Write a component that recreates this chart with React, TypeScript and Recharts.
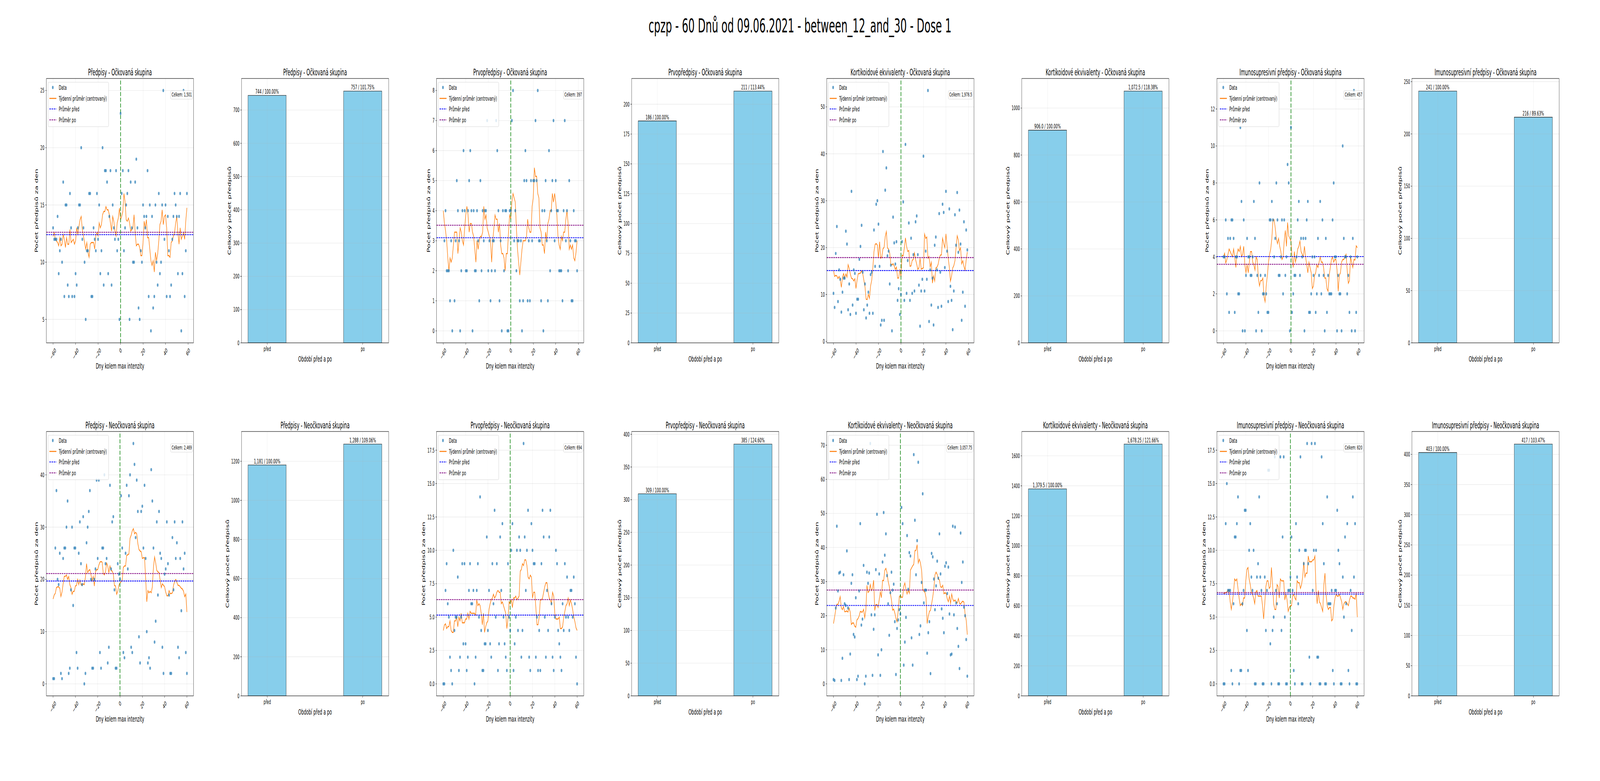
import React from 'react';
import {
  ComposedChart,
  BarChart,
  Bar,
  Scatter,
  Line,
  XAxis,
  YAxis,
  CartesianGrid,
  ReferenceLine,
  LabelList,
} from 'recharts';

// #region Data
const suptitle = 'cpzp - 60 Dnů od 09.06.2021 - between_12_and_30 - Dose 1';
const metricTitles = ['Předpisy', 'Prvopředpisy', 'Kortikoidové ekvivalenty', 'Imunosupresivní předpisy'];
const groupNames = ['Očkovaná skupina', 'Neočkovaná skupina'];
const periodLabels = ['před', 'po'];
const xTicks = [-60, -40, -20, 0, 20, 40, 60];

// Očkovaná skupina: days -60..-1 (před) and 0..59 (po)
const vaxPredpisyBefore = [13, 12, 12, 12, 14, 9, 11, 12, 10, 17, 7, 15, 15, 8, 7, 16, 13, 7, 24, 7, 9, 8, 13, 15, 15, 20, 12, 13, 10, 5, 11, 11, 16, 16, 7, 7, 13, 12, 11, 16, 12, 15, 9, 11, 20, 8, 18, 18, 17, 9, 14, 18, 8, 15, 13, 12, 18, 11, 12, 5];
const vaxPredpisyAfter = [23, 16, 18, 11, 13, 15, 16, 18, 5, 17, 13, 10, 10, 17, 19, 13, 6, 5, 11, 10, 15, 14, 13, 14, 18, 7, 15, 4, 14, 6, 7, 15, 10, 8, 16, 9, 10, 15, 25, 12, 15, 7, 14, 11, 7, 8, 12, 14, 16, 15, 14, 9, 14, 16, 4, 9, 25, 7, 11, 16];
const vaxPrvoBefore = [7, 3, 4, 2, 2, 2, 1, 3, 0, 7, 1, 3, 5, 4, 3, 0, 2, 4, 6, 4, 2, 2, 4, 5, 6, 4, 0, 4, 2, 2, 4, 3, 1, 5, 2, 4, 3, 4, 4, 7, 2, 3, 1, 2, 3, 3, 2, 7, 6, 4, 1, 3, 0, 4, 2, 4, 4, 0, 0, 4];
const vaxPrvoAfter = [4, 7, 8, 3, 4, 2, 3, 3, 1, 3, 0, 1, 5, 6, 5, 1, 3, 1, 5, 3, 5, 5, 7, 5, 8, 3, 3, 1, 4, 0, 4, 5, 3, 1, 6, 2, 4, 5, 7, 3, 5, 4, 4, 2, 2, 2, 1, 4, 7, 3, 4, 2, 5, 3, 1, 1, 4, 3, 3, 2];
const vaxKortBefore = [10.25, 7.25, 18.75, 24.5, 8.5, 15.25, 13.25, 6.25, 10.5, 13.5, 13.5, 23.5, 20.75, 6.75, 12.25, 5.75, 32, 7.75, 15.25, 14.5, 6, 9, 9, 17.5, 20.25, 24.75, 14.75, 6.75, 12.25, 5, 7.75, 10.5, 6, 14.25, 14.75, 6, 23.75, 16, 29.25, 30, 25, 16, 3.5, 4.5, 40.5, 4.5, 32.25, 37, 18.25, 19.25, 12.25, 16.25, 2.25, 26.5, 21, 16.5, 21.25, 8.75, 11.25, 5.75];
const vaxKortAfter = [10, 21.25, 29.75, 8.75, 42, 10.25, 17.25, 25.25, 8.75, 22, 10.25, 18.5, 10.75, 25.5, 26.75, 18.5, 12, 3.25, 10.75, 13.25, 39.5, 10.75, 19.25, 13.25, 53.5, 4.25, 15.25, 7.75, 13.5, 3.5, 20.5, 22.25, 15.25, 7.25, 27.25, 14.75, 7.5, 29.25, 27.5, 15.75, 32, 19.25, 8.5, 28.25, 11.75, 8.75, 2.5, 10.75, 27, 20.5, 31.75, 19, 28, 20.75, 4.5, 10.5, 25.5, 7.5, 23.75, 19.5];
const vaxImunoBefore = [4, 4, 6, 2, 5, 1, 5, 6, 6, 5, 1, 4, 4, 2, 2, 11, 7, 0, 6, 0, 3, 5, 4, 4, 3, 3, 4, 7, 5, 0, 3, 1, 8, 3, 0, 2, 2, 3, 2, 1, 1, 6, 6, 7, 6, 4, 5, 8, 6, 3, 3, 4, 6, 2, 6, 3, 4, 9, 8, 0];
const vaxImunoAfter = [11, 1, 2, 3, 3, 4, 6, 7, 3, 5, 4, 5, 0, 5, 6, 7, 1, 1, 2, 4, 3, 4, 1, 2, 5, 3, 7, 2, 6, 3, 0, 5, 1, 3, 2, 2, 2, 6, 8, 4, 4, 0, 3, 2, 2, 0, 10, 5, 4, 4, 2, 3, 1, 4, 0, 5, 13, 0, 1, 4];

// Neočkovaná skupina: days -60..-1 (před) and 0..60 (po)
const unvaxPredpisyBefore = [1, 1, 26, 37, 20, 19, 25, 2, 1, 24, 26, 26, 30, 35, 2, 3, 18, 30, 15, 26, 26, 6, 3, 25, 31, 23, 19, 32, 0, 2, 27, 30, 33, 37, 20, 3, 3, 20, 22, 39, 24, 39, 6, 3, 26, 26, 40, 23, 24, 4, 7, 38, 22, 31, 32, 18, 3, 3, 23, 21];
const unvaxPredpisyAfter = [20, 36, 26, 6, 5, 25, 38, 22, 36, 40, 7, 6, 46, 42, 28, 39, 33, 9, 4, 33, 34, 26, 38, 24, 10, 4, 5, 3, 41, 35, 26, 8, 12, 31, 17, 33, 25, 24, 7, 2, 21, 22, 31, 23, 17, 2, 2, 28, 18, 31, 24, 27, 7, 5, 24, 14, 31, 22, 25, 6, 2];
const unvaxPrvoBefore = [0, 0, 7, 9, 6, 5, 2, 1, 0, 10, 4, 5, 5, 8, 1, 2, 5, 9, 3, 9, 3, 1, 2, 7, 9, 6, 6, 7, 0, 2, 7, 9, 5, 14, 4, 1, 1, 3, 3, 11, 4, 7, 3, 2, 9, 6, 13, 5, 9, 1, 3, 11, 7, 12, 5, 3, 2, 1, 9, 5];
const unvaxPrvoAfter = [4, 10, 12, 1, 3, 5, 10, 4, 11, 10, 2, 4, 18, 11, 7, 10, 13, 2, 1, 12, 10, 9, 9, 2, 5, 1, 4, 1, 9, 13, 11, 5, 2, 7, 4, 11, 13, 6, 2, 1, 5, 10, 9, 4, 3, 2, 1, 6, 4, 9, 5, 8, 5, 4, 7, 7, 5, 8, 6, 2, 0];
const unvaxKortBefore = [1.25, 1, 22.25, 46.25, 27.25, 32.5, 32.75, 1, 7.5, 32, 23.5, 23, 39, 22.25, 1.25, 8.75, 29.5, 32, 14.5, 13.75, 25.25, 1.25, 2.25, 27.25, 47, 17.25, 19, 34.75, 0, 2.25, 32.75, 29.5, 32.5, 70.5, 20.25, 2.5, 16, 20.25, 33.5, 49.75, 8.5, 32.25, 2.5, 10, 35.75, 50.25, 37.75, 44, 31.75, 23.5, 14.25, 26.75, 32.75, 27.5, 29.25, 18.25, 2.75, 16.25, 18.75, 21.75];
const unvaxKortAfter = [20.5, 51.75, 47, 5.5, 12.25, 19.5, 43.5, 27.75, 38.5, 37.5, 13.5, 5.5, 67.25, 48, 32, 42, 65, 14.5, 17, 29.75, 55.75, 23.75, 27.5, 27.5, 9, 15, 18.25, 3, 38.25, 37.25, 30.75, 21.75, 28.75, 36, 31, 44, 32.25, 22, 19.25, 15, 34.5, 35.5, 26.5, 34.25, 20.5, 8.5, 8.75, 46.25, 20.25, 46, 23.75, 16.25, 11, 4.5, 44.25, 29.75, 35.75, 22.5, 20, 13, 2.25];
const unvaxImunoBefore = [0, 0, 12, 15, 7, 7, 7, 1, 0, 6, 11, 11, 12, 14, 0, 1, 1, 6, 7, 13, 13, 4, 1, 10, 12, 8, 7, 10, 0, 0, 8, 9, 14, 8, 7, 0, 0, 8, 4, 7, 16, 16, 3, 0, 4, 5, 17, 7, 6, 0, 0, 17, 4, 11, 17, 5, 0, 0, 7, 7];
const unvaxImunoAfter = [8, 11, 7, 1, 0, 12, 8, 6, 10, 17, 0, 0, 9, 10, 10, 18, 9, 2, 0, 18, 7, 10, 18, 10, 2, 2, 0, 0, 17, 12, 9, 0, 0, 14, 6, 6, 6, 7, 1, 0, 7, 7, 13, 10, 9, 0, 0, 8, 5, 11, 6, 12, 1, 0, 7, 4, 14, 8, 12, 0, 0];

// Totals před / po (bar panels)
const vaxTotals = [[744, 757], [186, 211], [906, 1072.5], [241, 216]];
const unvaxTotals = [[1181, 1288], [309, 385], [1379.5, 1678.25], [403, 417]];

// Tick values
const vaxYTicks = [[5, 10, 15, 20, 25], [0, 1, 2, 3, 4, 5, 6, 7, 8], [0, 10, 20, 30, 40, 50], [0, 2, 4, 6, 8, 10, 12]];
const unvaxYTicks = [[0, 10, 20, 30, 40], [0, 2.5, 5, 7.5, 10, 12.5, 15, 17.5], [0, 10, 20, 30, 40, 50, 60, 70], [0, 2.5, 5, 7.5, 10, 12.5, 15, 17.5]];
const vaxBarTicks = [[0, 100, 200, 300, 400, 500, 600, 700], [0, 25, 50, 75, 100, 125, 150, 175, 200], [0, 200, 400, 600, 800, 1000], [0, 50, 100, 150, 200, 250]];
const unvaxBarTicks = [[0, 200, 400, 600, 800, 1000, 1200], [0, 50, 100, 150, 200, 250, 300, 350, 400], [0, 200, 400, 600, 800, 1000, 1200, 1400, 1600], [0, 50, 100, 150, 200, 250, 300, 350, 400]];
// #endregion

const rowsSpec = [
  {
    group: 0,
    series: [[vaxPredpisyBefore, vaxPredpisyAfter], [vaxPrvoBefore, vaxPrvoAfter], [vaxKortBefore, vaxKortAfter], [vaxImunoBefore, vaxImunoAfter]],
    totals: vaxTotals,
    yTicks: vaxYTicks,
    barTicks: vaxBarTicks,
  },
  {
    group: 1,
    series: [[unvaxPredpisyBefore, unvaxPredpisyAfter], [unvaxPrvoBefore, unvaxPrvoAfter], [unvaxKortBefore, unvaxKortAfter], [unvaxImunoBefore, unvaxImunoAfter]],
    totals: unvaxTotals,
    yTicks: unvaxYTicks,
    barTicks: unvaxBarTicks,
  },
];

const FONT = "'DejaVu Sans', sans-serif";
const FIG_W = 8000;
const FIG_H = 2000;
const COL0 = 232;
const PITCH = 975.4;
const PW = 736;
const PH = 677;
const ROW_TOP = [201, 1105];
const ML = 120;
const MT = 40;
const MR = 20;
const MB = 100;
const Y_AXIS_W = 100;
const X_AXIS_H = 60;

const colLeft = (c: number) => COL0 + PITCH * c;

const CHAR_W: Record<string, number> = {
  '0': 0.636, '1': 0.636, '2': 0.636, '3': 0.636, '4': 0.636, '5': 0.636, '6': 0.636, '7': 0.636, '8': 0.636, '9': 0.636,
  '.': 0.318, ',': 0.318, ':': 0.337, ' ': 0.318, '\u2212': 0.838, '-': 0.361,
  C: 0.698, e: 0.615, l: 0.278, k: 0.579, m: 0.974,
};
const textW = (s: string, size: number) => s.split('').reduce((a, ch) => a + (CHAR_W[ch] ?? 0.6), 0) * size;

const fmtNum = (v: number, isFloat: boolean) =>
  v.toLocaleString('en-US', { minimumFractionDigits: isFloat ? 1 : 0, maximumFractionDigits: 2 });

const fmtTick = (v: number, decimals: number) => (v < 0 ? '\u2212' : '') + Math.abs(v).toFixed(decimals);

// 7-day centred mean (pandas rolling(7, center=True, min_periods=1))
function buildRows(before: number[], after: number[]) {
  const values = [...before, ...after];
  return values.map((v, i) => {
    const lo = Math.max(0, i - 3);
    const hi = Math.min(values.length - 1, i + 3);
    let s = 0;
    for (let k = lo; k <= hi; k++) s += values[k];
    return { day: i - before.length, value: v, avg: s / (hi - lo + 1) };
  });
}

const RotTick = (props: any) => {
  const { x, y, payload } = props;
  const s = fmtTick(payload.value, 0);
  const w = textW(s, 16);
  const cy = y + 7 + ((w + 11.7) * 0.7071) / 2;
  return (
    <text
      transform={`translate(${x},${cy}) rotate(-45)`}
      textAnchor="middle"
      dominantBaseline="central"
      fontSize={16}
      fill="#000"
    >
      {s}
    </text>
  );
};

const Dot = (props: any) => <circle cx={props.cx} cy={props.cy} r={4.2} fill="#1f77b4" fillOpacity={0.7} />;

const tickLine = { stroke: '#000', strokeWidth: 1.1 };

function ScatterPanel({ left, top, before, after, totals, yTicks, decimals }: any) {
  const rows = buildRows(before, after);
  const vals = rows.map((r) => r.value);
  const lo = Math.min(...vals);
  const hi = Math.max(...vals);
  const pad = (hi - lo) * 0.05;
  const x0 = -before.length;
  const x1 = after.length - 1;
  const xpad = (x1 - x0) * 0.05;
  const meanBefore = totals[0] / before.length;
  const meanAfter = totals[1] / after.length;
  return (
    <div style={{ position: 'absolute', left: left - ML, top: top - MT }}>
      <ComposedChart
        width={ML + PW + MR}
        height={MT + PH + MB}
        data={rows}
        margin={{ top: MT, right: MR, bottom: MB - X_AXIS_H, left: ML - Y_AXIS_W }}
      >
        <CartesianGrid stroke="#b0b0b0" strokeOpacity={0.3} strokeWidth={1.1} />
        <XAxis
          type="number"
          dataKey="day"
          domain={[x0 - xpad, x1 + xpad]}
          allowDataOverflow
          ticks={xTicks}
          interval={0}
          height={X_AXIS_H}
          axisLine={false}
          tickSize={5}
          tickMargin={0}
          tickLine={tickLine}
          tick={(p: any) => <RotTick {...p} />}
        />
        <YAxis
          type="number"
          domain={[lo - pad, hi + pad]}
          allowDataOverflow
          ticks={yTicks}
          interval={0}
          width={Y_AXIS_W}
          axisLine={false}
          tickSize={5}
          tickMargin={5}
          tickLine={tickLine}
          tick={{ fill: '#000', fontSize: 16 }}
          tickFormatter={(v: number) => fmtTick(v, decimals)}
        />
        <Scatter dataKey="value" isAnimationActive={false} shape={Dot} />
        <Line
          dataKey="avg"
          type="linear"
          stroke="#ff7f0e"
          strokeWidth={2.6}
          dot={false}
          activeDot={false}
          isAnimationActive={false}
        />
        <ReferenceLine y={meanBefore} stroke="#0000ff" strokeWidth={2.1} strokeDasharray="7.7 3.3" />
        <ReferenceLine y={meanAfter} stroke="#800080" strokeWidth={2.1} strokeDasharray="7.7 3.3" />
        <ReferenceLine x={0} stroke="#008000" strokeWidth={2.8} strokeDasharray="10.3 4.4" />
      </ComposedChart>
    </div>
  );
}

function BarPanel({ left, top, totals, ticks, isFloat }: any) {
  const data = totals.map((v: number, i: number) => ({
    x: i,
    v,
    label: `${fmtNum(v, isFloat)} / ${((v / totals[0]) * 100).toFixed(2)}%`,
  }));
  const ymax = Math.max(...totals) * 1.05;
  return (
    <div style={{ position: 'absolute', left: left - ML, top: top - MT }}>
      <BarChart
        width={ML + PW + MR}
        height={MT + PH + MB}
        data={data}
        margin={{ top: MT, right: MR, bottom: MB - X_AXIS_H, left: ML - Y_AXIS_W }}
      >
        <XAxis
          type="number"
          dataKey="x"
          domain={[-0.27, 1.27]}
          allowDataOverflow
          ticks={[0, 1]}
          interval={0}
          height={X_AXIS_H}
          axisLine={false}
          tickSize={5}
          tickMargin={5}
          tickLine={tickLine}
          tick={{ fill: '#000', fontSize: 16 }}
          tickFormatter={(v: number) => periodLabels[v]}
        />
        <YAxis
          type="number"
          domain={[0, ymax]}
          allowDataOverflow
          ticks={ticks}
          interval={0}
          width={Y_AXIS_W}
          axisLine={false}
          tickSize={5}
          tickMargin={5}
          tickLine={tickLine}
          tick={{ fill: '#000', fontSize: 16 }}
        />
        <Bar dataKey="v" fill="#87ceeb" stroke="#000" strokeWidth={1.1} barSize={191} isAnimationActive={false}>
          <LabelList dataKey="label" position="top" offset={4} fill="#000" fontSize={16} />
        </Bar>
        {ticks.map((t: number) => (
          <ReferenceLine key={`gy${t}`} y={t} stroke="#b0b0b0" strokeOpacity={0.3} strokeWidth={1.1} />
        ))}
        {[0, 1].map((t) => (
          <ReferenceLine key={`gx${t}`} x={t} stroke="#b0b0b0" strokeOpacity={0.3} strokeWidth={1.1} />
        ))}
      </BarChart>
    </div>
  );
}

function PanelDecor({ left, top, title, xLabel, yLabel, yDist, xLabelGap }: any) {
  return (
    <g>
      <rect x={left} y={top} width={PW} height={PH} fill="none" stroke="#000" strokeWidth={1.1} />
      <text x={left + PW / 2} y={top - 8} textAnchor="middle" fontSize={22.2}>
        {title}
      </text>
      <text x={left + PW / 2} y={top + PH + xLabelGap} textAnchor="middle" fontSize={19.4}>
        {xLabel}
      </text>
      <text
        transform={`translate(${left - yDist},${top + PH / 2}) rotate(-90)`}
        textAnchor="middle"
        dominantBaseline="central"
        fontSize={19.4}
      >
        {yLabel}
      </text>
    </g>
  );
}

function LegendBox({ left, top }: any) {
  const rowsY = [23, 51, 78, 106].map((d) => top + d);
  const tx = left + 62;
  return (
    <g>
      <rect x={left + 8} y={top + 9.5} width={303} height={114} rx={4} fill="#fff" fillOpacity={0.8} stroke="#cccccc" />
      <circle cx={left + 32} cy={rowsY[0]} r={4.2} fill="#1f77b4" fillOpacity={0.7} />
      <line x1={left + 15} x2={left + 50} y1={rowsY[1]} y2={rowsY[1]} stroke="#ff7f0e" strokeWidth={2.6} />
      <line x1={left + 15} x2={left + 50} y1={rowsY[2]} y2={rowsY[2]} stroke="#0000ff" strokeWidth={2.1} strokeDasharray="7.7 3.3" />
      <line x1={left + 15} x2={left + 50} y1={rowsY[3]} y2={rowsY[3]} stroke="#800080" strokeWidth={2.1} strokeDasharray="7.7 3.3" />
      {['Data', 'Týdenní průměr (centrovaný)', 'Průměr před', 'Průměr po'].map((s, i) => (
        <text key={s} x={tx} y={rowsY[i]} dominantBaseline="central" fontSize={16.5}>
          {s}
        </text>
      ))}
    </g>
  );
}

function TotalBox({ left, top, text }: any) {
  const fs = 13.9;
  const w = textW(text, fs) + 9;
  const right = left + PW - 4.5;
  return (
    <g>
      <rect x={right - w} y={top + 31} width={w} height={22} rx={4} fill="#fff" fillOpacity={0.8} stroke="#cccccc" />
      <text x={right - 4.5} y={top + 42} textAnchor="end" dominantBaseline="central" fontSize={fs}>
        {text}
      </text>
    </g>
  );
}

// fit the 8000x2000 figure into whatever the window really shows
function viewportScale() {
  if (typeof window === 'undefined') return [1, 1];
  const w = window.innerWidth || FIG_W;
  const h = window.innerHeight || FIG_H;
  const sx = w > 100 ? Math.min(1, w / FIG_W) : 1;
  const sy = h > 100 ? Math.min(1, h / FIG_H) : 1;
  return [sx, sy];
}

export default function App() {
  const [sx, sy] = viewportScale();
  const charts: React.ReactNode[] = [];
  const decor: React.ReactNode[] = [];
  rowsSpec.forEach((row, r) => {
    const top = ROW_TOP[r];
    row.series.forEach(([before, after], m) => {
      const title = `${metricTitles[m]} - ${groupNames[row.group]}`;
      const totals = row.totals[m];
      const isFloat = totals.some((v) => !Number.isInteger(v)) || m === 2;
      const yTicks = row.yTicks[m];
      const decimals = yTicks.some((v) => !Number.isInteger(v)) ? 1 : 0;
      const sLeft = colLeft(2 * m);
      const bLeft = colLeft(2 * m + 1);
      charts.push(
        <ScatterPanel
          key={`s${r}${m}`}
          left={sLeft}
          top={top}
          before={before}
          after={after}
          totals={totals}
          yTicks={yTicks}
          decimals={decimals}
        />,
      );
      charts.push(
        <BarPanel key={`b${r}${m}`} left={bLeft} top={top} totals={totals} ticks={row.barTicks[m]} isFloat={isFloat} />,
      );
      const sDist = 28 + Math.max(...yTicks.map((t) => textW(fmtTick(t, decimals), 16)));
      const bDist = 28 + Math.max(...row.barTicks[m].map((t) => textW(String(t), 16)));
      decor.push(
        <g key={`d${r}${m}`}>
          <PanelDecor
            left={sLeft}
            top={top}
            title={title}
            xLabel="Dny kolem max intenzity"
            yLabel="Počet předpisů za den"
            yDist={sDist}
            xLabelGap={66}
          />
          <LegendBox left={sLeft} top={top} />
          <TotalBox left={sLeft} top={top} text={`Celkem: ${fmtNum(totals[0] + totals[1], isFloat)}`} />
          <PanelDecor
            left={bLeft}
            top={top}
            title={title}
            xLabel="Období před a po"
            yLabel="Celkový počet předpisů"
            yDist={bDist}
            xLabelGap={48}
          />
        </g>,
      );
    });
  });

  return (
    <div
      style={{
        position: 'absolute',
        left: 0,
        top: 0,
        width: FIG_W * sx,
        height: FIG_H * sy,
        overflow: 'hidden',
        background: '#fff',
      }}
    >
      <div
        style={{
          position: 'absolute',
          left: 0,
          top: 0,
          width: FIG_W,
          height: FIG_H,
          background: '#fff',
          fontFamily: FONT,
          transform: `scale(${sx}, ${sy})`,
          transformOrigin: '0 0',
        }}
      >
        {charts}
        <svg
          width={FIG_W}
          height={FIG_H}
          style={{ position: 'absolute', left: 0, top: 0, pointerEvents: 'none', fontFamily: FONT }}
        >
          <text x={FIG_W / 2} y={83} textAnchor="middle" fontSize={50}>
            {suptitle}
          </text>
          {decor}
        </svg>
      </div>
    </div>
  );
}
